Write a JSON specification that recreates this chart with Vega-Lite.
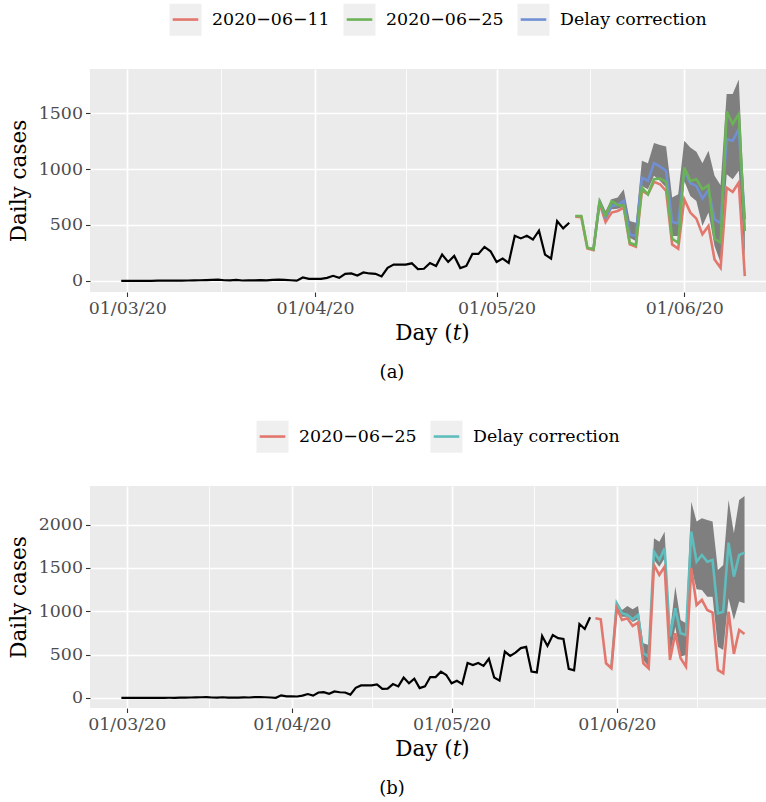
{
  "$schema": "https://vega.github.io/schema/vega-lite/v6.json",
  "padding": {"left": 8, "top": 2, "right": 0, "bottom": 0},
  "spacing": 36,
  "background": "white",
  "datasets": {
    "obsA": [
      {"date":"2020-02-29","value":0},{"date":"2020-03-01","value":0},{"date":"2020-03-02","value":0},{"date":"2020-03-03","value":0},{"date":"2020-03-04","value":0},{"date":"2020-03-05","value":0},{"date":"2020-03-06","value":1},{"date":"2020-03-07","value":1},{"date":"2020-03-08","value":1},{"date":"2020-03-09","value":2},{"date":"2020-03-10","value":2},{"date":"2020-03-11","value":3},{"date":"2020-03-12","value":4},{"date":"2020-03-13","value":5},{"date":"2020-03-14","value":6},{"date":"2020-03-15","value":8},{"date":"2020-03-16","value":10},{"date":"2020-03-17","value":5},{"date":"2020-03-18","value":4},{"date":"2020-03-19","value":8},{"date":"2020-03-20","value":3},{"date":"2020-03-21","value":5},{"date":"2020-03-22","value":4},{"date":"2020-03-23","value":6},{"date":"2020-03-24","value":5},{"date":"2020-03-25","value":9},{"date":"2020-03-26","value":10},{"date":"2020-03-27","value":8},{"date":"2020-03-28","value":5},{"date":"2020-03-29","value":2},{"date":"2020-03-30","value":30},{"date":"2020-03-31","value":18},
      {"date":"2020-04-01","value":18},{"date":"2020-04-02","value":17},{"date":"2020-04-03","value":27},{"date":"2020-04-04","value":45},{"date":"2020-04-05","value":27},{"date":"2020-04-06","value":63},{"date":"2020-04-07","value":66},{"date":"2020-04-08","value":48},{"date":"2020-04-09","value":75},{"date":"2020-04-10","value":66},{"date":"2020-04-11","value":63},{"date":"2020-04-12","value":39},{"date":"2020-04-13","value":117},{"date":"2020-04-14","value":145},{"date":"2020-04-15","value":145},{"date":"2020-04-16","value":145},{"date":"2020-04-17","value":157},{"date":"2020-04-18","value":105},{"date":"2020-04-19","value":108},{"date":"2020-04-20","value":160},{"date":"2020-04-21","value":133},{"date":"2020-04-22","value":235},{"date":"2020-04-23","value":169},{"date":"2020-04-24","value":223},{"date":"2020-04-25","value":114},{"date":"2020-04-26","value":133},{"date":"2020-04-27","value":241},{"date":"2020-04-28","value":241},{"date":"2020-04-29","value":304},{"date":"2020-04-30","value":265},
      {"date":"2020-05-01","value":169},{"date":"2020-05-02","value":199},{"date":"2020-05-03","value":160},{"date":"2020-05-04","value":404},{"date":"2020-05-05","value":380},{"date":"2020-05-06","value":404},{"date":"2020-05-07","value":370},{"date":"2020-05-08","value":449},{"date":"2020-05-09","value":235},{"date":"2020-05-10","value":199},{"date":"2020-05-11","value":536},{"date":"2020-05-12","value":470},{"date":"2020-05-13","value":520}
    ],
    "obsB": [
      {"date":"2020-02-29","value":0},{"date":"2020-03-01","value":0},{"date":"2020-03-02","value":0},{"date":"2020-03-03","value":0},{"date":"2020-03-04","value":0},{"date":"2020-03-05","value":0},{"date":"2020-03-06","value":1},{"date":"2020-03-07","value":1},{"date":"2020-03-08","value":1},{"date":"2020-03-09","value":2},{"date":"2020-03-10","value":2},{"date":"2020-03-11","value":3},{"date":"2020-03-12","value":4},{"date":"2020-03-13","value":5},{"date":"2020-03-14","value":6},{"date":"2020-03-15","value":8},{"date":"2020-03-16","value":10},{"date":"2020-03-17","value":5},{"date":"2020-03-18","value":4},{"date":"2020-03-19","value":8},{"date":"2020-03-20","value":3},{"date":"2020-03-21","value":5},{"date":"2020-03-22","value":4},{"date":"2020-03-23","value":6},{"date":"2020-03-24","value":5},{"date":"2020-03-25","value":9},{"date":"2020-03-26","value":10},{"date":"2020-03-27","value":8},{"date":"2020-03-28","value":5},{"date":"2020-03-29","value":2},{"date":"2020-03-30","value":30},{"date":"2020-03-31","value":18},
      {"date":"2020-04-01","value":18},{"date":"2020-04-02","value":17},{"date":"2020-04-03","value":27},{"date":"2020-04-04","value":45},{"date":"2020-04-05","value":27},{"date":"2020-04-06","value":63},{"date":"2020-04-07","value":66},{"date":"2020-04-08","value":48},{"date":"2020-04-09","value":75},{"date":"2020-04-10","value":66},{"date":"2020-04-11","value":63},{"date":"2020-04-12","value":39},{"date":"2020-04-13","value":117},{"date":"2020-04-14","value":145},{"date":"2020-04-15","value":145},{"date":"2020-04-16","value":145},{"date":"2020-04-17","value":157},{"date":"2020-04-18","value":105},{"date":"2020-04-19","value":108},{"date":"2020-04-20","value":160},{"date":"2020-04-21","value":133},{"date":"2020-04-22","value":235},{"date":"2020-04-23","value":169},{"date":"2020-04-24","value":223},{"date":"2020-04-25","value":114},{"date":"2020-04-26","value":133},{"date":"2020-04-27","value":241},{"date":"2020-04-28","value":241},{"date":"2020-04-29","value":304},{"date":"2020-04-30","value":265},
      {"date":"2020-05-01","value":169},{"date":"2020-05-02","value":199},{"date":"2020-05-03","value":160},{"date":"2020-05-04","value":404},{"date":"2020-05-05","value":380},{"date":"2020-05-06","value":404},{"date":"2020-05-07","value":370},{"date":"2020-05-08","value":452},{"date":"2020-05-09","value":236},{"date":"2020-05-10","value":200},{"date":"2020-05-11","value":535},{"date":"2020-05-12","value":485},{"date":"2020-05-13","value":523},{"date":"2020-05-14","value":575},{"date":"2020-05-15","value":590},{"date":"2020-05-16","value":305},{"date":"2020-05-17","value":295},{"date":"2020-05-18","value":715},{"date":"2020-05-19","value":600},{"date":"2020-05-20","value":725},{"date":"2020-05-21","value":690},{"date":"2020-05-22","value":680},{"date":"2020-05-23","value":335},{"date":"2020-05-24","value":318},{"date":"2020-05-25","value":854},{"date":"2020-05-26","value":796},{"date":"2020-05-27","value":931}
    ],
    "predA": [
      {"date":"2020-05-14","series":"2020−06−11","value":575},{"date":"2020-05-15","series":"2020−06−11","value":570},{"date":"2020-05-16","series":"2020−06−11","value":290},{"date":"2020-05-17","series":"2020−06−11","value":276},{"date":"2020-05-18","series":"2020−06−11","value":695},{"date":"2020-05-19","series":"2020−06−11","value":527},{"date":"2020-05-20","series":"2020−06−11","value":611},{"date":"2020-05-21","series":"2020−06−11","value":626},{"date":"2020-05-22","series":"2020−06−11","value":656},{"date":"2020-05-23","series":"2020−06−11","value":326},{"date":"2020-05-24","series":"2020−06−11","value":305},{"date":"2020-05-25","series":"2020−06−11","value":805},{"date":"2020-05-26","series":"2020−06−11","value":775},{"date":"2020-05-27","series":"2020−06−11","value":886},{"date":"2020-05-28","series":"2020−06−11","value":865},{"date":"2020-05-29","series":"2020−06−11","value":805},{"date":"2020-05-30","series":"2020−06−11","value":326},{"date":"2020-05-31","series":"2020−06−11","value":287},{"date":"2020-06-01","series":"2020−06−11","value":731},{"date":"2020-06-02","series":"2020−06−11","value":611},{"date":"2020-06-03","series":"2020−06−11","value":557},{"date":"2020-06-04","series":"2020−06−11","value":416},{"date":"2020-06-05","series":"2020−06−11","value":491},{"date":"2020-06-06","series":"2020−06−11","value":192},{"date":"2020-06-07","series":"2020−06−11","value":117},{"date":"2020-06-08","series":"2020−06−11","value":835},{"date":"2020-06-09","series":"2020−06−11","value":796},{"date":"2020-06-10","series":"2020−06−11","value":880},{"date":"2020-06-11","series":"2020−06−11","value":42},
      {"date":"2020-05-17","series":"Delay correction","value":279},{"date":"2020-05-18","series":"Delay correction","value":710},{"date":"2020-05-19","series":"Delay correction","value":566},{"date":"2020-05-20","series":"Delay correction","value":671},{"date":"2020-05-21","series":"Delay correction","value":680},{"date":"2020-05-22","series":"Delay correction","value":716},{"date":"2020-05-23","series":"Delay correction","value":416},{"date":"2020-05-24","series":"Delay correction","value":401},{"date":"2020-05-25","series":"Delay correction","value":925},{"date":"2020-05-26","series":"Delay correction","value":895},{"date":"2020-05-27","series":"Delay correction","value":1054},{"date":"2020-05-28","series":"Delay correction","value":1024},{"date":"2020-05-29","series":"Delay correction","value":985},{"date":"2020-05-30","series":"Delay correction","value":527},{"date":"2020-05-31","series":"Delay correction","value":515},{"date":"2020-06-01","series":"Delay correction","value":985},{"date":"2020-06-02","series":"Delay correction","value":874},{"date":"2020-06-03","series":"Delay correction","value":850},{"date":"2020-06-04","series":"Delay correction","value":737},{"date":"2020-06-05","series":"Delay correction","value":814},{"date":"2020-06-06","series":"Delay correction","value":551},{"date":"2020-06-07","series":"Delay correction","value":515},{"date":"2020-06-08","series":"Delay correction","value":1269},{"date":"2020-06-09","series":"Delay correction","value":1254},{"date":"2020-06-10","series":"Delay correction","value":1359},{"date":"2020-06-11","series":"Delay correction","value":551},
      {"date":"2020-05-14","series":"2020−06−25","value":581},{"date":"2020-05-15","series":"2020−06−25","value":581},{"date":"2020-05-16","series":"2020−06−25","value":296},{"date":"2020-05-17","series":"2020−06−25","value":281},{"date":"2020-05-18","series":"2020−06−25","value":707},{"date":"2020-05-19","series":"2020−06−25","value":581},{"date":"2020-05-20","series":"2020−06−25","value":716},{"date":"2020-05-21","series":"2020−06−25","value":680},{"date":"2020-05-22","series":"2020−06−25","value":671},{"date":"2020-05-23","series":"2020−06−25","value":341},{"date":"2020-05-24","series":"2020−06−25","value":320},{"date":"2020-05-25","series":"2020−06−25","value":835},{"date":"2020-05-26","series":"2020−06−25","value":775},{"date":"2020-05-27","series":"2020−06−25","value":910},{"date":"2020-05-28","series":"2020−06−25","value":916},{"date":"2020-05-29","series":"2020−06−25","value":886},{"date":"2020-05-30","series":"2020−06−25","value":377},{"date":"2020-05-31","series":"2020−06−25","value":341},{"date":"2020-06-01","series":"2020−06−25","value":1015},{"date":"2020-06-02","series":"2020−06−25","value":895},{"date":"2020-06-03","series":"2020−06−25","value":910},{"date":"2020-06-04","series":"2020−06−25","value":820},{"date":"2020-06-05","series":"2020−06−25","value":856},{"date":"2020-06-06","series":"2020−06−25","value":377},{"date":"2020-06-07","series":"2020−06−25","value":341},{"date":"2020-06-08","series":"2020−06−25","value":1515},{"date":"2020-06-09","series":"2020−06−25","value":1404},{"date":"2020-06-10","series":"2020−06−25","value":1494},{"date":"2020-06-11","series":"2020−06−25","value":446}
    ],
    "ribA": [
      {"date":"2020-05-16","lo":290,"hi":296},{"date":"2020-05-17","lo":270,"hi":300},{"date":"2020-05-18","lo":671,"hi":746},{"date":"2020-05-19","lo":540,"hi":626},{"date":"2020-05-20","lo":640,"hi":731},{"date":"2020-05-21","lo":645,"hi":746},{"date":"2020-05-22","lo":665,"hi":820},{"date":"2020-05-23","lo":386,"hi":536},{"date":"2020-05-24","lo":356,"hi":521},{"date":"2020-05-25","lo":850,"hi":1075},{"date":"2020-05-26","lo":820,"hi":1054},{"date":"2020-05-27","lo":940,"hi":1234},{"date":"2020-05-28","lo":895,"hi":1216},{"date":"2020-05-29","lo":835,"hi":1204},{"date":"2020-05-30","lo":401,"hi":746},{"date":"2020-05-31","lo":401,"hi":775},{"date":"2020-06-01","lo":895,"hi":1254},{"date":"2020-06-02","lo":760,"hi":1195},{"date":"2020-06-03","lo":716,"hi":1156},{"date":"2020-06-04","lo":491,"hi":1054},{"date":"2020-06-05","lo":611,"hi":1165},{"date":"2020-06-06","lo":311,"hi":940},{"date":"2020-06-07","lo":162,"hi":856},{"date":"2020-06-08","lo":955,"hi":1674},{"date":"2020-06-09","lo":910,"hi":1674},{"date":"2020-06-10","lo":985,"hi":1802},{"date":"2020-06-11","lo":190,"hi":620}
    ],
    "predB": [
      {"date":"2020-05-31","series":"Delay correction","value":345},{"date":"2020-06-01","series":"Delay correction","value":1092},{"date":"2020-06-02","series":"Delay correction","value":977},{"date":"2020-06-03","series":"Delay correction","value":958},{"date":"2020-06-04","series":"Delay correction","value":908},{"date":"2020-06-05","series":"Delay correction","value":958},{"date":"2020-06-06","series":"Delay correction","value":515},{"date":"2020-06-07","series":"Delay correction","value":477},{"date":"2020-06-08","series":"Delay correction","value":1688},{"date":"2020-06-09","series":"Delay correction","value":1592},{"date":"2020-06-10","series":"Delay correction","value":1727},{"date":"2020-06-11","series":"Delay correction","value":708},{"date":"2020-06-12","series":"Delay correction","value":1035},{"date":"2020-06-13","series":"Delay correction","value":746},{"date":"2020-06-14","series":"Delay correction","value":727},{"date":"2020-06-15","series":"Delay correction","value":1919},{"date":"2020-06-16","series":"Delay correction","value":1573},{"date":"2020-06-17","series":"Delay correction","value":1650},{"date":"2020-06-18","series":"Delay correction","value":1573},{"date":"2020-06-19","series":"Delay correction","value":1592},{"date":"2020-06-20","series":"Delay correction","value":977},{"date":"2020-06-21","series":"Delay correction","value":996},{"date":"2020-06-22","series":"Delay correction","value":1792},{"date":"2020-06-23","series":"Delay correction","value":1400},{"date":"2020-06-24","series":"Delay correction","value":1650},{"date":"2020-06-25","series":"Delay correction","value":1677},
      {"date":"2020-05-28","series":"2020−06−25","value":919},{"date":"2020-05-29","series":"2020−06−25","value":908},{"date":"2020-05-30","series":"2020−06−25","value":400},{"date":"2020-05-31","series":"2020−06−25","value":342},{"date":"2020-06-01","series":"2020−06−25","value":1035},{"date":"2020-06-02","series":"2020−06−25","value":900},{"date":"2020-06-03","series":"2020−06−25","value":919},{"date":"2020-06-04","series":"2020−06−25","value":831},{"date":"2020-06-05","series":"2020−06−25","value":869},{"date":"2020-06-06","series":"2020−06−25","value":400},{"date":"2020-06-07","series":"2020−06−25","value":342},{"date":"2020-06-08","series":"2020−06−25","value":1535},{"date":"2020-06-09","series":"2020−06−25","value":1419},{"date":"2020-06-10","series":"2020−06−25","value":1515},{"date":"2020-06-11","series":"2020−06−25","value":438},{"date":"2020-06-12","series":"2020−06−25","value":746},{"date":"2020-06-13","series":"2020−06−25","value":458},{"date":"2020-06-14","series":"2020−06−25","value":362},{"date":"2020-06-15","series":"2020−06−25","value":1496},{"date":"2020-06-16","series":"2020−06−25","value":1073},{"date":"2020-06-17","series":"2020−06−25","value":1131},{"date":"2020-06-18","series":"2020−06−25","value":1015},{"date":"2020-06-19","series":"2020−06−25","value":985},{"date":"2020-06-20","series":"2020−06−25","value":323},{"date":"2020-06-21","series":"2020−06−25","value":285},{"date":"2020-06-22","series":"2020−06−25","value":996},{"date":"2020-06-23","series":"2020−06−25","value":508},{"date":"2020-06-24","series":"2020−06−25","value":785},{"date":"2020-06-25","series":"2020−06−25","value":738}
    ],
    "ribB": [
      {"date":"2020-05-31","lo":340,"hi":360},{"date":"2020-06-01","lo":1035,"hi":1112},{"date":"2020-06-02","lo":938,"hi":1015},{"date":"2020-06-03","lo":938,"hi":1062},{"date":"2020-06-04","lo":877,"hi":1023},{"date":"2020-06-05","lo":908,"hi":1062},{"date":"2020-06-06","lo":438,"hi":631},{"date":"2020-06-07","lo":362,"hi":612},{"date":"2020-06-08","lo":1592,"hi":1842},{"date":"2020-06-09","lo":1515,"hi":1804},{"date":"2020-06-10","lo":1612,"hi":1919},{"date":"2020-06-11","lo":477,"hi":760},{"date":"2020-06-12","lo":823,"hi":1285},{"date":"2020-06-13","lo":477,"hi":900},{"date":"2020-06-14","lo":496,"hi":862},{"date":"2020-06-15","lo":1508,"hi":2265},{"date":"2020-06-16","lo":1254,"hi":2035},{"date":"2020-06-17","lo":1246,"hi":2073},{"date":"2020-06-18","lo":1169,"hi":2054},{"date":"2020-06-19","lo":1169,"hi":2035},{"date":"2020-06-20","lo":592,"hi":1477},{"date":"2020-06-21","lo":554,"hi":1535},{"date":"2020-06-22","lo":1150,"hi":2285},{"date":"2020-06-23","lo":900,"hi":1900},{"date":"2020-06-24","lo":1112,"hi":2285},{"date":"2020-06-25","lo":1092,"hi":2331}
    ]
  },
  "vconcat": [
    {
      "width": 676,
      "height": 223,
      "title": {"text": "(a)", "orient": "bottom", "anchor": "middle", "dx": -36, "offset": 20, "fontSize": 18, "font": "DejaVu Serif", "fontWeight": "normal", "color": "black"},
      "encoding": {
        "x": {"field": "date", "type": "temporal",
          "scale": {"type": "utc", "domain": [{"year": 2020, "month": 2, "date": 23, "hours": 20, "minutes": 10, "utc": true}, {"year": 2020, "month": 6, "date": 14, "hours": 12, "utc": true}]},
          "axis": {"title": "Day (𝑡)", "titleX": 342,
            "values": [{"year": 2020, "month": 3, "date": 1, "utc": true}, {"year": 2020, "month": 3, "date": 16, "hours": 12, "utc": true}, {"year": 2020, "month": 4, "date": 1, "utc": true}, {"year": 2020, "month": 4, "date": 16, "utc": true}, {"year": 2020, "month": 5, "date": 1, "utc": true}, {"year": 2020, "month": 5, "date": 16, "hours": 12, "utc": true}, {"year": 2020, "month": 6, "date": 1, "utc": true}],
            "labelExpr": "utcdate(datum.value) === 1 && utchours(datum.value) === 0 ? utcFormat(datum.value, '%d/%m/%y') : ''",
            "tickOpacity": {"condition": {"test": "utcdate(datum.value) === 1 && utchours(datum.value) === 0", "value": 1}, "value": 0},
            "gridWidth": {"condition": {"test": "utcdate(datum.value) === 1 && utchours(datum.value) === 0", "value": 1.7}, "value": 0.85}
          }
        }
      },
      "layer": [
        {
          "data": {"name": "ribA"},
          "mark": {"type": "area", "color": "#7F7F7F", "opacity": 1, "clip": true},
          "encoding": {
            "y": {"field": "lo", "type": "quantitative",
              "scale": {"domain": [-100, 1897], "nice": false, "zero": false},
              "axis": {"title": "Daily cases", "format": "d", "values": [0, 250, 500, 750, 1000, 1250, 1500, 1750],
                "labelExpr": "datum.value % 500 === 0 ? datum.label : ''",
                "tickOpacity": {"condition": {"test": "datum.value % 500 === 0", "value": 1}, "value": 0},
                "gridWidth": {"condition": {"test": "datum.value % 500 === 0", "value": 1.7}, "value": 0.85}}},
            "y2": {"field": "hi"}
          }
        },
        {
          "data": {"name": "obsA"},
          "mark": {"type": "line", "color": "black", "strokeWidth": 2.2, "clip": true},
          "encoding": {"y": {"field": "value", "type": "quantitative"}}
        },
        {
          "data": {"name": "predA"},
          "mark": {"type": "line", "strokeWidth": 2.6, "clip": true},
          "encoding": {
            "y": {"field": "value", "type": "quantitative"},
            "color": {"field": "series", "type": "nominal",
              "scale": {"domain": ["2020−06−11", "2020−06−25", "Delay correction"], "range": ["#E2776D", "#6BB356", "#7190D4"]},
              "legend": {"title": null, "orient": "none", "legendX": 78, "legendY": -67, "direction": "horizontal", "zindex": 2,
                "symbolType": "M-1,0L-1,0M-0.8,0L0.8,0M1,0L1,0", "symbolSize": 1024, "symbolStrokeWidth": 2.6,
                "labelFontSize": 17.4, "labelFont": "DejaVu Serif", "labelColor": "black", "labelOffset": 9, "columnPadding": 8}}
          }
        },
        {
          "data": {"name": "predA"},
          "transform": [{"filter": "false"}],
          "mark": {"type": "point", "filled": true, "fill": "#EFEFEF", "stroke": "#EFEFEF", "strokeWidth": 2.6, "opacity": 1},
          "encoding": {
            "y": {"field": "value", "type": "quantitative"},
            "shape": {"field": "key", "type": "nominal",
              "scale": {"domain": ["2020−06−11", "2020−06−25", "Delay correction"], "range": ["square", "square", "square"]},
              "legend": {"title": null, "orient": "none", "legendX": 78, "legendY": -67, "direction": "horizontal", "zindex": 1,
                "symbolType": "square", "symbolSize": 1024, "symbolStrokeWidth": 2.6, "symbolFillColor": "#EFEFEF", "symbolStrokeColor": "#EFEFEF",
                "labelFontSize": 17.4, "labelFont": "DejaVu Serif", "labelOpacity": 0, "labelOffset": 9, "columnPadding": 8}}
          }
        }
      ],
      "resolve": {"scale": {"color": "independent", "shape": "independent"}, "legend": {"color": "independent", "shape": "independent"}}
    },
    {
      "width": 676,
      "height": 222,
      "title": {"text": "(b)", "orient": "bottom", "anchor": "middle", "dx": -36, "offset": 20, "fontSize": 18, "font": "DejaVu Serif", "fontWeight": "normal", "color": "black"},
      "encoding": {
        "x": {"field": "date", "type": "temporal",
          "scale": {"type": "utc", "domain": [{"year": 2020, "month": 2, "date": 23, "hours": 2, "minutes": 40, "utc": true}, {"year": 2020, "month": 6, "date": 29, "minutes": 45, "utc": true}]},
          "axis": {"title": "Day (𝑡)", "titleX": 342,
            "values": [{"year": 2020, "month": 3, "date": 1, "utc": true}, {"year": 2020, "month": 3, "date": 16, "hours": 12, "utc": true}, {"year": 2020, "month": 4, "date": 1, "utc": true}, {"year": 2020, "month": 4, "date": 16, "utc": true}, {"year": 2020, "month": 5, "date": 1, "utc": true}, {"year": 2020, "month": 5, "date": 16, "hours": 12, "utc": true}, {"year": 2020, "month": 6, "date": 1, "utc": true}, {"year": 2020, "month": 6, "date": 16, "utc": true}],
            "labelExpr": "utcdate(datum.value) === 1 && utchours(datum.value) === 0 ? utcFormat(datum.value, '%d/%m/%y') : ''",
            "tickOpacity": {"condition": {"test": "utcdate(datum.value) === 1 && utchours(datum.value) === 0", "value": 1}, "value": 0},
            "gridWidth": {"condition": {"test": "utcdate(datum.value) === 1 && utchours(datum.value) === 0", "value": 1.7}, "value": 0.85}
          }
        }
      },
      "layer": [
        {
          "data": {"name": "ribB"},
          "mark": {"type": "area", "color": "#7F7F7F", "opacity": 1, "clip": true},
          "encoding": {
            "y": {"field": "lo", "type": "quantitative",
              "scale": {"domain": [-116, 2446], "nice": false, "zero": false},
              "axis": {"title": "Daily cases", "format": "d", "values": [0, 250, 500, 750, 1000, 1250, 1500, 1750, 2000, 2250],
                "labelExpr": "datum.value % 500 === 0 ? datum.label : ''",
                "tickOpacity": {"condition": {"test": "datum.value % 500 === 0", "value": 1}, "value": 0},
                "gridWidth": {"condition": {"test": "datum.value % 500 === 0", "value": 1.7}, "value": 0.85}}},
            "y2": {"field": "hi"}
          }
        },
        {
          "data": {"name": "obsB"},
          "mark": {"type": "line", "color": "black", "strokeWidth": 2.2, "clip": true},
          "encoding": {"y": {"field": "value", "type": "quantitative"}}
        },
        {
          "data": {"name": "predB"},
          "mark": {"type": "line", "strokeWidth": 2.6, "clip": true},
          "encoding": {
            "y": {"field": "value", "type": "quantitative"},
            "color": {"field": "series", "type": "nominal",
              "scale": {"domain": ["2020−06−25", "Delay correction"], "range": ["#E2776D", "#5FBDBD"]},
              "legend": {"title": null, "orient": "none", "legendX": 165, "legendY": -67, "direction": "horizontal", "zindex": 2,
                "symbolType": "M-1,0L-1,0M-0.8,0L0.8,0M1,0L1,0", "symbolSize": 1024, "symbolStrokeWidth": 2.6,
                "labelFontSize": 17.4, "labelFont": "DejaVu Serif", "labelColor": "black", "labelOffset": 9, "columnPadding": 8}}
          }
        },
        {
          "data": {"name": "predB"},
          "transform": [{"filter": "false"}],
          "mark": {"type": "point", "filled": true, "fill": "#EFEFEF", "stroke": "#EFEFEF", "strokeWidth": 2.6, "opacity": 1},
          "encoding": {
            "y": {"field": "value", "type": "quantitative"},
            "shape": {"field": "key", "type": "nominal",
              "scale": {"domain": ["2020−06−25", "Delay correction"], "range": ["square", "square"]},
              "legend": {"title": null, "orient": "none", "legendX": 165, "legendY": -67, "direction": "horizontal", "zindex": 1,
                "symbolType": "square", "symbolSize": 1024, "symbolStrokeWidth": 2.6, "symbolFillColor": "#EFEFEF", "symbolStrokeColor": "#EFEFEF",
                "labelFontSize": 17.4, "labelFont": "DejaVu Serif", "labelOpacity": 0, "labelOffset": 9, "columnPadding": 8}}
          }
        }
      ],
      "resolve": {"scale": {"color": "independent", "shape": "independent"}, "legend": {"color": "independent", "shape": "independent"}}
    }
  ],
  "resolve": {"scale": {"color": "independent", "shape": "independent", "x": "independent", "y": "independent"}, "legend": {"color": "independent", "shape": "independent"}},
  "config": {
    "font": "DejaVu Serif",
    "view": {"fill": "#EBEBEB", "stroke": null},
    "axis": {"domain": false, "gridColor": "white", "tickColor": "#333333", "tickWidth": 1.1, "tickSize": 4.5,
      "labelColor": "#4D4D4D", "labelFontSize": 17.4, "labelFont": "DejaVu Serif", "labelPadding": 3,
      "titleFont": "DejaVu Serif", "titleFontSize": 21.5, "titleFontWeight": "normal", "titleColor": "black"},
    "axisY": {"titlePadding": 8},
    "axisX": {"titlePadding": 6},
    "legend": {"padding": 0}
  }
}
